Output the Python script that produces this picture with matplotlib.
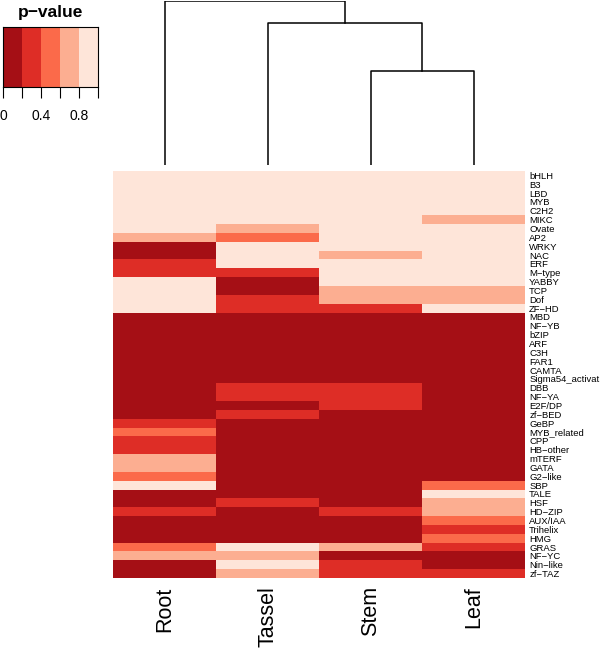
import matplotlib
matplotlib.use('Agg')
import matplotlib.pyplot as plt
import numpy as np
from matplotlib.colors import ListedColormap, BoundaryNorm

plt.rcParams['font.family'] = ['Liberation Sans', 'DejaVu Sans']

# tissues (columns, in dendrogram order)
tissues = ['Root', 'Tassel', 'Stem', 'Leaf']

# TF families (rows, top to bottom)
families = ['bHLH', 'B3', 'LBD', 'MYB', 'C2H2', 'MIKC', 'Ovate', 'AP2', 'WRKY',
            'NAC', 'ERF', 'M\u2212type', 'YABBY', 'TCP', 'Dof', 'ZF\u2212HD', 'MBD',
            'NF\u2212YB', 'bZIP', 'ARF', 'C3H', 'FAR1', 'CAMTA', 'Sigma54_activat',
            'DBB', 'NF\u2212YA', 'E2F/DP', 'zf\u2212BED', 'GeBP', 'MYB_related', 'CPP',
            'HB\u2212other', 'mTERF', 'GATA', 'G2\u2212like', 'SBP', 'TALE', 'HSF',
            'HD\u2212ZIP', 'AUX/IAA', 'Trihelix', 'HMG', 'GRAS', 'NF\u2212YC',
            'Nin\u2212like', 'zf\u2212TAZ']

# estimated p-values per tissue (binned colours: 0-0.2, 0.2-0.4, ... 0.8-1)
root = [0.9, 0.9, 0.9, 0.9, 0.9, 0.9, 0.9, 0.7, 0.1, 0.1, 0.3, 0.3, 0.9, 0.9, 0.9, 0.9,
        0.1, 0.1, 0.1, 0.1, 0.1, 0.1, 0.1, 0.1, 0.1, 0.1, 0.1, 0.1, 0.3, 0.5, 0.3, 0.3,
        0.7, 0.7, 0.5, 0.9, 0.1, 0.1, 0.3, 0.1, 0.1, 0.1, 0.5, 0.7, 0.1, 0.1]
tassel = [0.9, 0.9, 0.9, 0.9, 0.9, 0.9, 0.7, 0.5, 0.9, 0.9, 0.9, 0.3, 0.1, 0.1, 0.3, 0.3,
          0.1, 0.1, 0.1, 0.1, 0.1, 0.1, 0.1, 0.1, 0.3, 0.3, 0.1, 0.3, 0.1, 0.1, 0.1, 0.1,
          0.1, 0.1, 0.1, 0.1, 0.1, 0.3, 0.1, 0.1, 0.1, 0.1, 0.9, 0.7, 0.9, 0.7]
stem = [0.9, 0.9, 0.9, 0.9, 0.9, 0.9, 0.9, 0.9, 0.9, 0.7, 0.9, 0.9, 0.9, 0.7, 0.7, 0.3,
        0.1, 0.1, 0.1, 0.1, 0.1, 0.1, 0.1, 0.1, 0.3, 0.3, 0.3, 0.1, 0.1, 0.1, 0.1, 0.1,
        0.1, 0.1, 0.1, 0.1, 0.1, 0.1, 0.3, 0.1, 0.1, 0.1, 0.7, 0.1, 0.3, 0.3]
leaf = [0.9, 0.9, 0.9, 0.9, 0.9, 0.7, 0.9, 0.9, 0.9, 0.9, 0.9, 0.9, 0.9, 0.7, 0.7, 0.9,
        0.1, 0.1, 0.1, 0.1, 0.1, 0.1, 0.1, 0.1, 0.1, 0.1, 0.1, 0.1, 0.1, 0.1, 0.1, 0.1,
        0.1, 0.1, 0.1, 0.5, 0.9, 0.7, 0.7, 0.5, 0.3, 0.5, 0.3, 0.1, 0.1, 0.3]

# column dendrogram merge heights: (Stem,Leaf), (Tassel,...), (Root,...)
merge_heights = [94, 142, 164]

colors = ['#A50F15', '#DE2D26', '#FB6A4A', '#FCAE91', '#FEE5D9']
breaks = [0, 0.2, 0.4, 0.6, 0.8, 1.0]
cmap = ListedColormap(colors)
norm = BoundaryNorm(breaks, cmap.N)

W, H = 600, 651
fig = plt.figure(figsize=(W / 100, H / 100), dpi=100)


def px_axes(x0, y0, x1, y1):
    return fig.add_axes([x0 / W, 1 - y1 / H, (x1 - x0) / W, (y1 - y0) / H])


# heatmap
data = np.array([root, tassel, stem, leaf]).T
ax = px_axes(113, 171, 525, 578)
ax.pcolormesh(np.arange(len(tissues) + 1), np.arange(len(families) + 1), data,
              cmap=cmap, norm=norm)
ax.set_xlim(0, len(tissues))
ax.set_ylim(len(families), 0)
for s in ax.spines.values():
    s.set_visible(False)
ax.set_xticks(np.arange(len(tissues)) + 0.5)
ax.set_xticklabels(tissues, rotation=90, fontsize=15.5)
ax.tick_params(axis='x', length=0, pad=6)
ax.yaxis.tick_right()
ax.set_yticks(np.arange(len(families)) + 0.5)
ax.set_yticklabels(families, fontsize=6.8)
ax.tick_params(axis='y', length=0, pad=3)

# column dendrogram (Root, (Tassel, (Stem, Leaf)))
dax = px_axes(113, 1, 525, 165)
xs = np.arange(len(tissues)) + 0.5
h1, h2, h3 = merge_heights
sl = (xs[2] + xs[3]) / 2
tsl = (xs[1] + sl) / 2
lw = 1.1
dax.plot([xs[2], xs[2], xs[3], xs[3]], [0, h1, h1, 0], color='black', lw=lw)
dax.plot([xs[1], xs[1], sl, sl], [0, h2, h2, h1], color='black', lw=lw)
dax.plot([xs[0], xs[0], tsl, tsl], [0, h3, h3, h2], color='black', lw=lw)
dax.set_xlim(0, len(tissues))
dax.set_ylim(0, h3)
dax.axis('off')

# colour key
kax = px_axes(3, 27, 98, 87)
kax.pcolormesh(breaks, [0, 1], np.array([[0.1, 0.3, 0.5, 0.7, 0.9]]),
               cmap=cmap, norm=norm)
kax.set_xlim(0, 1)
kax.set_ylim(0, 1)
kax.set_yticks([])
kax.set_xticks(breaks)
kax.set_xticklabels(['0', '', '0.4', '', '0.8', ''], fontsize=10)
kax.tick_params(axis='x', length=8, width=0.8, pad=8)
for s in kax.spines.values():
    s.set_linewidth(0.8)
kax.set_title('p\u2212value', fontsize=12.5, fontweight='bold', pad=7)

fig.savefig('out.png', dpi=100)
